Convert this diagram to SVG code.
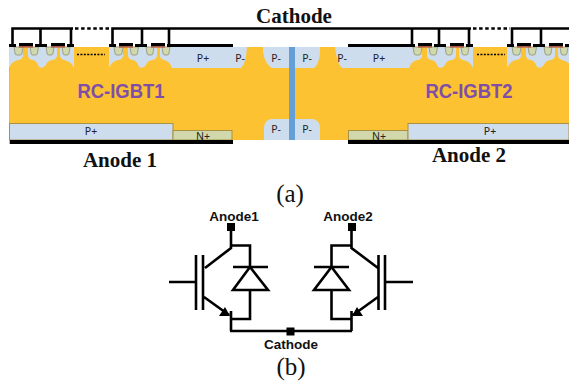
<svg xmlns="http://www.w3.org/2000/svg" width="569" height="381" viewBox="0 0 569 381">
<style>
.w{fill:none;stroke:#000;stroke-width:2.6}
.c{fill:none;stroke:#000;stroke-width:2.6}
.p{fill:#cdddee}
.nw{fill:#d0d8ac;stroke:#8f9270;stroke-width:.8}
.pad{fill:#000}
.g{fill:#b5523c}
.d{fill:none;stroke:#000;stroke-width:2.6;stroke-dasharray:3.5 2.6}
.dd{fill:none;stroke:#000;stroke-width:1.6;stroke-dasharray:2 1.4}
.box{stroke:#a89045;stroke-width:1}
.s{font:10.500px "Noto Sans","Liberation Sans",sans-serif;fill:#222;text-anchor:middle}
.t{font:bold 21px "Liberation Serif",serif;fill:#111;text-anchor:middle}
.cap{font:25px "Liberation Serif",serif;fill:#111;text-anchor:middle}
.dev{font:bold 20.500px "Liberation Sans",sans-serif;fill:#7f4fa8;text-anchor:middle}
.lab{font:bold 13.500px "Liberation Sans",sans-serif;fill:#111;text-anchor:middle}
</style>
<defs>
<g id="cellL">
<path class="p" d="M0 0H14V9Q13 13 9 13Q3 14 0 21Z"/>
<path class="p" d="M19 0H48V9Q47 13 43 13Q38 14 37 18Q34 22 30 20Q28 14 24 13Q20 13 19 9Z"/>
<path class="p" d="M51 0H65V21Q62 14 55 13Q51 12 51 8Z"/>
<path class="nw" d="M5 0H14L13 6Q13 8 11 8H8Q6 8 6 6Z"/>
<path class="nw" d="M21 0H29.500L28.500 6Q28.500 8 26.500 8H24Q22 8 22 6Z"/>
<path class="nw" d="M37 0H45L44 6Q44 8 42 8H40Q38 8 38 6Z"/>
<path class="nw" d="M53 0H61L60 6Q60 8 58 8H56Q54 8 54 6Z"/>
<rect class="pad" x="0" y="-3" width="7" height="3"/>
<rect class="pad" x="26" y="-3" width="12" height="3"/>
<rect class="pad" x="58" y="-3" width="7" height="3"/>
<rect class="pad" x="10" y="-4" width="14" height="3.500"/>
<rect class="g" x="10" y="-.8" width="14" height="1.400"/>
<rect class="pad" x="42" y="-4" width="14" height="3.500"/>
<rect class="g" x="42" y="-.8" width="14" height="1.400"/>
</g>
</defs>
<rect width="569" height="381" fill="#fff"/>
<g id="rc-igbt1">
<rect x="9" y="47" width="280" height="93" fill="#fdc232"/>
<rect x="9" y="47" width="1" height="97" fill="#b9b9b9"/>
<use href="#cellL" x="9" y="47"/>
<path class="p" d="M160 47H247Q246 64 241 68H172Q170 62 165 60Q160 59 160 55Z"/>
<use href="#cellL" x="109" y="47"/>
<rect class="pad" x="167" y="44" width="66" height="3"/>
<path class="dd" d="M77 54.500H105"/>
<text class="s" x="203" y="62">P+</text>
<text class="s" x="240" y="62">P-</text>
<text class="dev" x="121" y="98" textLength="87" lengthAdjust="spacingAndGlyphs">RC-IGBT1</text>
<rect class="p box" x="9.500" y="123.500" width="163.500" height="16.500"/>
<rect class="box" x="173" y="130.500" width="59" height="9.500" fill="#d0d8ac"/>
<text class="s" x="91" y="135">P+</text>
<text class="s" x="203" y="140">N+</text>
<rect class="pad" x="10" y="140" width="223" height="4"/>
</g>
<g id="center">
<rect x="289" y="47" width="60" height="93" fill="#fdc232"/>
<path class="p" d="M263 47H289V68H272Q265 64 263 52Z"/>
<path class="p" d="M295 47H320V53Q319 64 314 68H295Z"/>
<path class="p" d="M264 140V127Q265 120 271 119H289V140Z"/>
<path class="p" d="M295 119H313Q319 120 320 127V140H295Z"/>
<rect x="289" y="47" width="6" height="93" fill="#659fd8"/>
<text class="s" x="276" y="62">P-</text>
<text class="s" x="307" y="62">P-</text>
<text class="s" x="276" y="133">P-</text>
<text class="s" x="307" y="133">P-</text>
</g>
<g id="rc-igbt2">
<rect x="320" y="47" width="249" height="93" fill="#fdc232"/>
<path class="p" d="M335 47H421V55Q421 59 416 60Q411 62 409 68H342Q337 64 335 47Z"/>
<use href="#cellL" x="408" y="47"/>
<use href="#cellL" x="507" y="47"/>
<rect class="pad" x="348" y="44" width="66" height="3"/>
<path class="dd" d="M477 54.500H505"/>
<text class="s" x="379" y="62">P+</text>
<text class="s" x="342" y="62">P-</text>
<text class="dev" x="469" y="98" textLength="87" lengthAdjust="spacingAndGlyphs">RC-IGBT2</text>
<rect class="box" x="348.500" y="130.500" width="59.500" height="9.500" fill="#d0d8ac"/>
<rect class="p box" x="408" y="123.500" width="161" height="16.500"/>
<text class="s" x="379" y="140">N+</text>
<text class="s" x="490" y="135">P+</text>
<rect class="pad" x="348" y="140" width="221" height="4"/>
</g>
<g id="connectors">
<path class="c" d="M12.500 45V28.500H73M40.500 28.500V45M71 28.500V45"/>
<path class="d" d="M75 28.500H110"/>
<path class="c" d="M112.500 45V28.500H471M142 28.500V45M169 28.500V45M412 28.500V45M439 28.500V45M469 28.500V45"/>
<path class="d" d="M473 28.500H510"/>
<path class="c" d="M512 45V28.500H569M541 28.500V45"/>
</g>
<g id="labels">
<text class="t" x="294" y="23">Cathode</text>
<text class="t" x="120" y="167">Anode 1</text>
<text class="t" x="469" y="162">Anode 2</text>
<text class="cap" x="290" y="202">(a)</text>
<text class="cap" x="291" y="375">(b)</text>
</g>
<g id="igbt1">
<path class="w" d="M231 231V248L205 268M231 245.500H250V267M233 267H268M250 267L233 290H268L250 267M250 290V319H231M169 282H196M196 255V310M203 255V310M204 297L229 315M231 311V331"/>
<path d="M230 316L219 316L225 307Z" fill="#000"/>
</g>
<g id="igbt2">
<path class="w" d="M351.500 231V248L378 268M351.500 245.500H331.500V267M314 267H349M331.500 267L314 290H349L331.500 267M331.500 290V319H351.500M413 282H385M378.500 255V310M385 255V310M378 297L353 315M351.500 311V331"/>
<path d="M352 316L363 316L357 307Z" fill="#000"/>
</g>
<g id="circuit-wires">
<path class="w" d="M230 331H352"/>
</g>
<g id="terminals">
<rect x="227" y="223" width="8" height="8"/>
<rect x="348" y="223" width="8" height="8"/>
<rect x="286.500" y="327.500" width="8" height="8"/>
<text class="lab" x="234" y="221">Anode1</text>
<text class="lab" x="348" y="221">Anode2</text>
<text class="lab" x="291" y="349">Cathode</text>
</g>
</svg>
